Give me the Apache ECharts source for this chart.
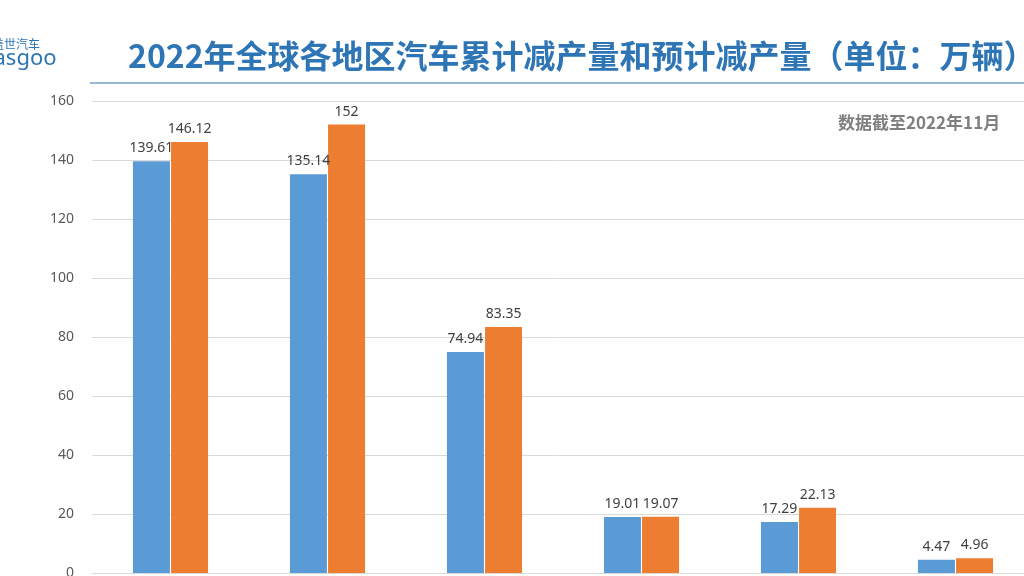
<!DOCTYPE html>
<html><head><meta charset="utf-8">
<script src="https://cdn.jsdelivr.net/npm/echarts@6/dist/echarts.min.js"></script>
<style>html,body{margin:0;padding:0;background:#fff}#c{width:1024px;height:576px}</style>
</head><body><div id="c"></div>
<script>
const categories = ['A','B','C','D','E','F'];
const cumulative = [139.61, 135.14, 74.94, 19.01, 17.29, 4.47];
const forecast = [146.12, 152, 83.35, 19.07, 22.13, 4.96];
const yTicks = [0,20,40,60,80,100,120,140,160];
const chart = echarts.init(document.getElementById('c'));
const lbl = {show:true, position:'top', distance:6, color:'#404040', fontSize:14, fontFamily:'Noto Sans'};
chart.setOption({
  animation:false,
  graphic:[
    {type:'text', left:128, top:40, style:{text:'2022年全球各地区汽车累计减产量和预计减产量（单位：万辆）', fontSize:32, fontWeight:'bold', fill:'#2e75b6', fontFamily:'Noto Sans CJK SC'}},
    {type:'line', shape:{x1:90,y1:83,x2:1024,y2:83}, style:{stroke:'#2e75b6', lineWidth:1}},
    {type:'text', left:-8, top:38, style:{text:'盖世汽车', fontSize:12, fill:'#2e75b6', fontFamily:'Noto Sans CJK SC'}},
    {type:'text', left:-20, top:48, style:{text:'gasgoo', fontSize:22, fill:'#2e75b6', fontFamily:'Noto Sans'}},
    {type:'text', left:838, top:114, style:{text:'数据截至2022年11月', fontSize:17, fontWeight:'bold', fill:'#7f7f7f', fontFamily:'Noto Sans CJK SC'}}
  ],
  grid:{left:92, width:942, top:101, height:472, outerBoundsMode:'none'},
  xAxis:{type:'category', data:categories, axisLabel:{show:false}, axisTick:{show:false}, axisLine:{lineStyle:{color:'#d9d9d9'}}},
  yAxis:{type:'value', min:yTicks[0], max:yTicks[yTicks.length-1], interval:20,
    axisLabel:{color:'#595959', fontSize:14, fontFamily:'Noto Sans', margin:18},
    splitLine:{lineStyle:{color:'#d9d9d9'}}},
  series:[
    {type:'bar', data:cumulative, barWidth:37, barGap:'3%', itemStyle:{color:'#5b9bd5'}, label:lbl},
    {type:'bar', data:forecast, barWidth:37, itemStyle:{color:'#ed7d31'}, label:lbl}
  ]
});
</script></body></html>
